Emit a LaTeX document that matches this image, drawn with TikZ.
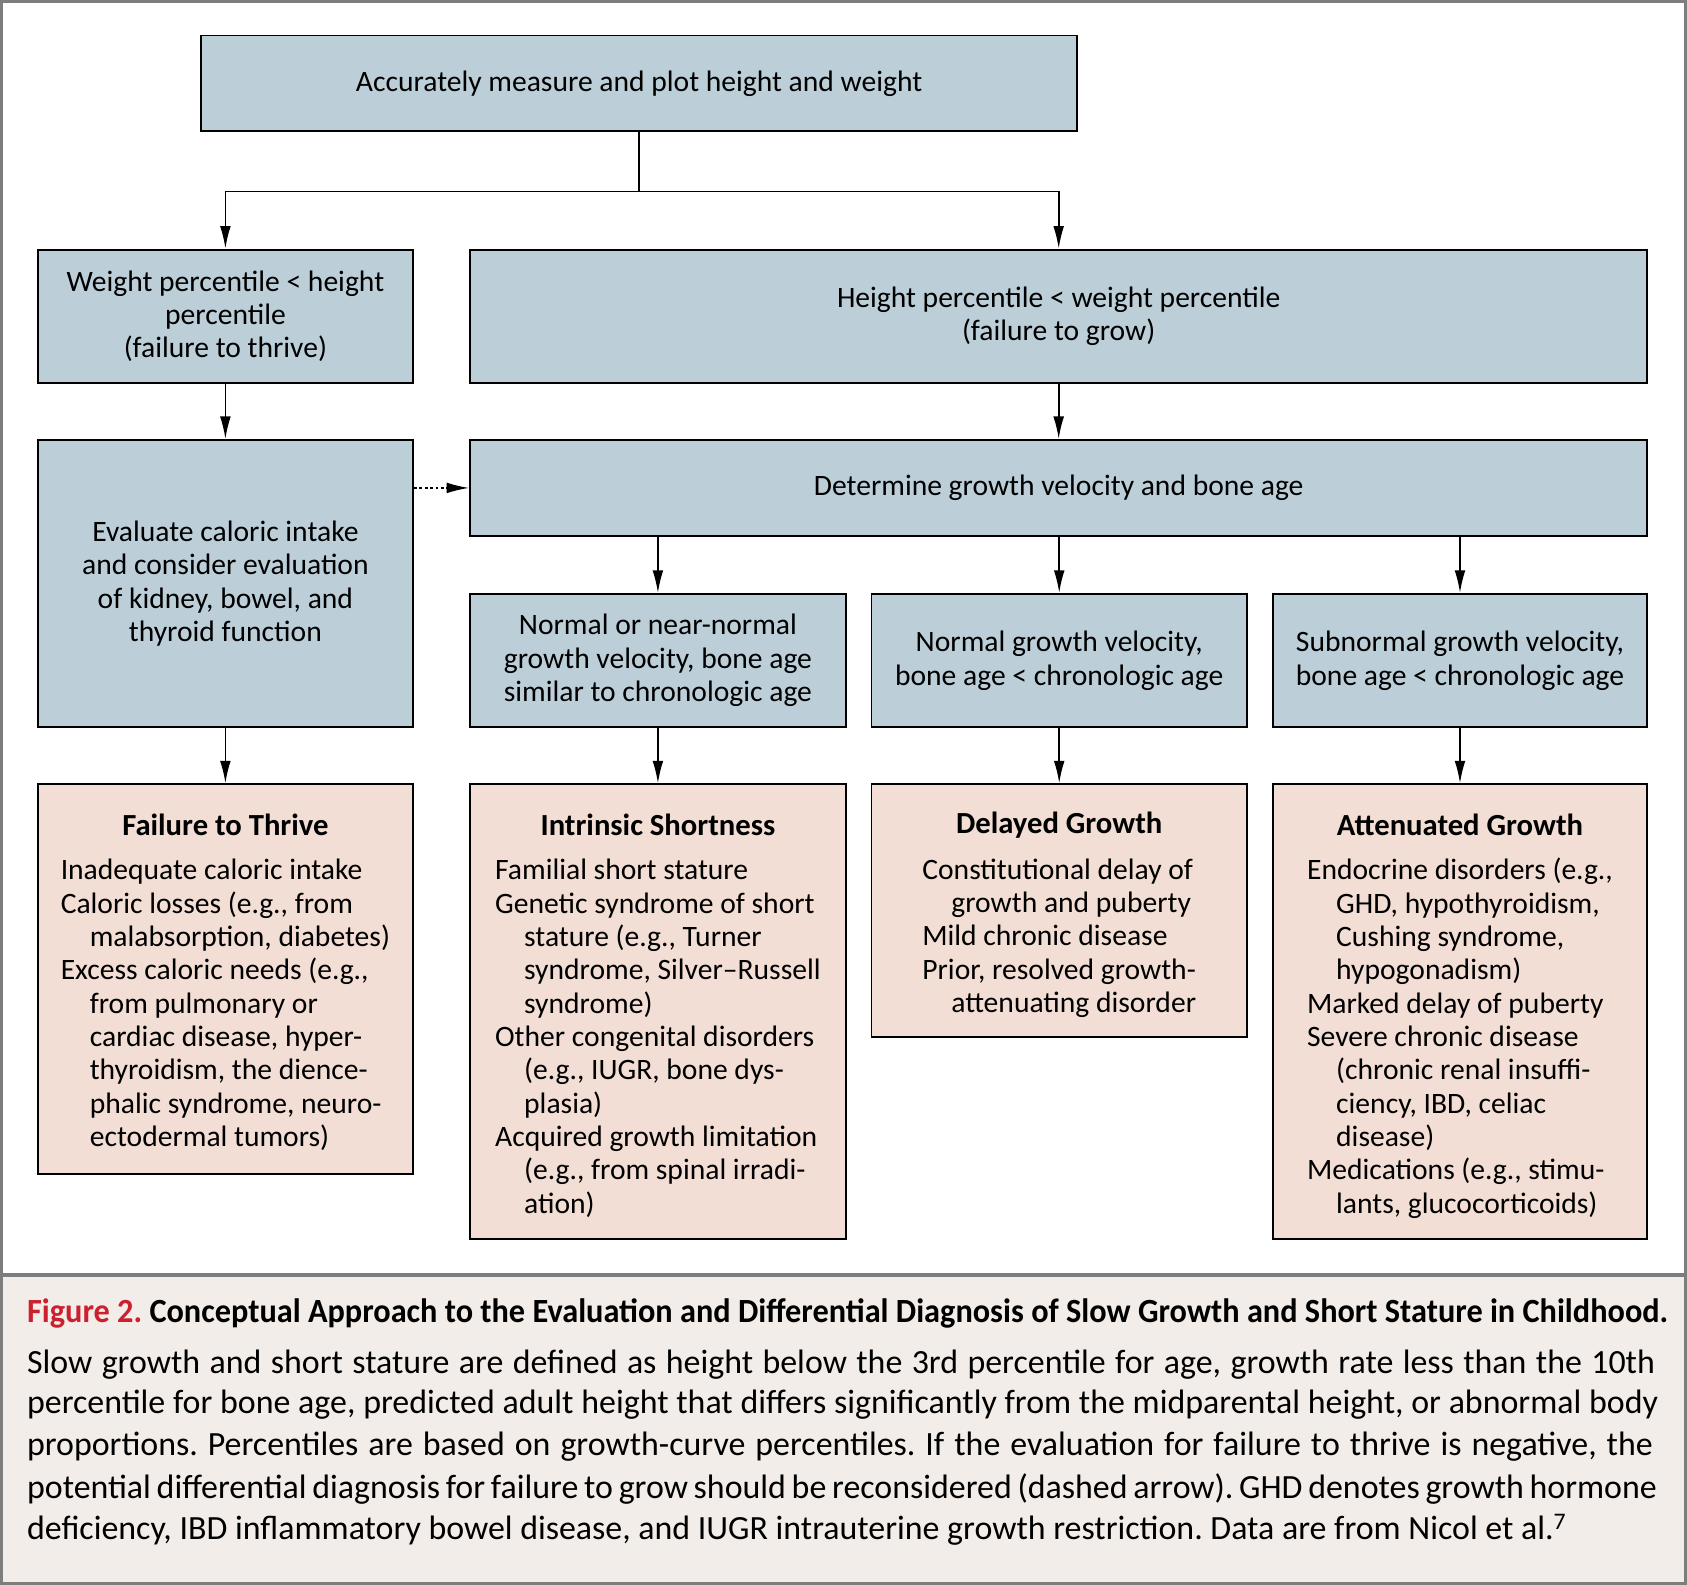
\documentclass[tikz,border=0pt]{standalone}
\usepackage{fontspec}
\setmainfont{Carlito}
\usetikzlibrary{arrows.meta}
\definecolor{boxblue}{RGB}{188,207,217}
\definecolor{boxpink}{RGB}{242,222,212}
\definecolor{capbg}{RGB}{242,237,232}
\definecolor{framegray}{RGB}{125,125,125}
\definecolor{figred}{RGB}{204,32,46}
\newcommand{\bxfont}{\fontsize{27.5}{31}\selectfont}
\newcommand{\ttlfont}{\fontsize{28.5}{31}\selectfont\bfseries}
\newcommand{\capfont}{\fontsize{31.5}{38.5}\selectfont\frenchspacing}
\newcommand{\ind}{\hspace*{27pt}}
\begin{document}
\begin{tikzpicture}[x=1pt,y=-1pt,
  bluebox/.style={draw=black, line width=1.8pt, fill=boxblue, inner sep=0pt, align=center, font=\bxfont},
  pinkbox/.style={draw=black, line width=1.8pt, fill=boxpink, inner sep=0pt},
  ttl/.style={font=\ttlfont, inner sep=0pt},
  lst/.style={font=\bxfont, align=left, inner sep=0pt},
  arr/.style={-{Latex[length=21pt,width=10pt]}, line width=1.6pt},
  dotarr/.style={-{Latex[length=21pt,width=10pt]}, line width=1.6pt, dash pattern=on 2.5pt off 2.5pt},
  capline/.style={font=\capfont, anchor=west, inner sep=0pt}]
\useasboundingbox (0,0) rectangle (1568,1473);
% frame and caption area
\fill[white] (0,0) rectangle (1568,1185);
\fill[capbg] (0,1185) rectangle (1568,1473);
\draw[framegray, line width=3pt] (1.5,1.5) rectangle (1566.5,1471.5);
\draw[framegray, line width=3pt] (0,1185) -- (1568,1185);

% boxes
\node[bluebox, minimum width=814pt, minimum height=89pt] (top) at (594,77.5) {Accurately measure and plot height and weight};
\node[bluebox, minimum width=349pt, minimum height=124pt] (wt) at (209.5,294) {Weight percentile < height\\percentile\\(failure to thrive)};
\node[bluebox, minimum width=1094pt, minimum height=124pt] (ht) at (984,294) {Height percentile < weight percentile\\(failure to grow)};
\node[bluebox, minimum width=349pt, minimum height=267pt] (ev) at (209.5,542.5) {Evaluate caloric intake\\and consider evaluation\\of kidney, bowel, and\\thyroid function};
\node[bluebox, minimum width=1094pt, minimum height=89pt] (det) at (984,453.5) {Determine growth velocity and bone age};
\node[bluebox, minimum width=349pt, minimum height=124pt] (m1) at (611.5,614) {Normal or near-normal\\growth velocity, bone age\\similar to chronologic age};
\node[bluebox, minimum width=349pt, minimum height=124pt] (m2) at (984.5,614) {Normal growth velocity,\\bone age < chronologic age};
\node[bluebox, minimum width=348pt, minimum height=124pt] (m3) at (1357,614) {Subnormal growth velocity,\\bone age < chronologic age};

\node[pinkbox, minimum width=349pt, minimum height=362pt] (r1) at (209.5,910) {};
\node[pinkbox, minimum width=349pt, minimum height=423pt] (r2) at (611.5,940.5) {};
\node[pinkbox, minimum width=349pt, minimum height=235pt] (r3) at (984.5,846.5) {};
\node[pinkbox, minimum width=348pt, minimum height=423pt] (r4) at (1357,940.5) {};

\node[ttl] (t1) at (209.5,767) {Failure to Thrive};
\node[ttl] (t2) at (611.5,767) {Intrinsic Shortness};
\node[ttl] (t3) at (984.5,767) {Delayed Growth};
\node[ttl] (t4) at (1357,767) {Attenuated Growth};

\node[lst] (l1) at (209.5,934) {Inadequate caloric intake\\Caloric losses (e.g., from\\\ind malabsorption, diabetes)\\Excess caloric needs (e.g.,\\\ind from pulmonary or\\\ind cardiac disease, hyper-\\\ind thyroidism, the dience-\\\ind phalic syndrome, neuro-\\\ind ectodermal tumors)};
\node[lst] (l2) at (611.5,965) {Familial short stature\\Genetic syndrome of short\\\ind stature (e.g., Turner\\\ind syndrome, Silver--Russell\\\ind syndrome)\\Other congenital disorders\\\ind (e.g., IUGR, bone dys-\\\ind plasia)\\Acquired growth limitation\\\ind (e.g., from spinal irradi-\\\ind ation)};
\node[lst] (l3) at (984.5,872) {Constitutional delay of\\\ind growth and puberty\\Mild chronic disease\\Prior, resolved growth-\\\ind attenuating disorder};
\node[lst] (l4) at (1357,965) {Endocrine disorders (e.g.,\\\ind GHD, hypothyroidism,\\\ind Cushing syndrome,\\\ind hypogonadism)\\Marked delay of puberty\\Severe chronic disease\\\ind (chronic renal insuffi-\\\ind ciency, IBD, celiac\\\ind disease)\\Medications (e.g., stimu-\\\ind lants, glucocorticoids)};

% connectors
\coordinate (j) at (594,178);
\draw[line width=1.6pt] (top.south) -- (j);
\draw[arr] (j) -| (wt.north);
\draw[arr] (j) -| (ht.north);
\draw[arr] (wt.south) -- (ev.north);
\draw[arr] (ht.south) -- (det.north);
\draw[dotarr] (ev.east |- det.west) -- (det.west);
\draw[arr] (det.south -| m1.north) -- (m1.north);
\draw[arr] (det.south -| m2.north) -- (m2.north);
\draw[arr] (det.south -| m3.north) -- (m3.north);
\draw[arr] (ev.south) -- (r1.north);
\draw[arr] (m1.south) -- (r2.north);
\draw[arr] (m2.south) -- (r3.north);
\draw[arr] (m3.south) -- (r4.north);

% caption
\node[capline] (c0) at (25,1221) {\resizebox{1525pt}{\height}{\textcolor{figred}{\bfseries Figure 2.} \bfseries Conceptual Approach to the Evaluation and Differential Diagnosis of Slow Growth and Short Stature in Childhood.}};
\node[capline] (c1) at (25,1268) {\makebox[1513pt][s]{Slow growth and short stature are defined as height below the 3rd percentile for age, growth rate less than the 10th}};
\node[capline] (c2) at (25,1306) {\makebox[1516pt][s]{percentile for bone age, predicted adult height that differs significantly from the midparental height, or abnormal body}};
\node[capline] (c3) at (25,1345) {\makebox[1511pt][s]{proportions. Percentiles are based on growth-curve percentiles. If the evaluation for failure to thrive is negative, the}};
\node[capline] (c4) at (25,1384) {\makebox[1515pt][s]{potential differential diagnosis for failure to grow should be reconsidered (dashed arrow). GHD denotes growth hormone}};
\node[capline] (c5) at (25,1422) {deficiency, IBD inflammatory bowel disease, and IUGR intrauterine growth restriction. Data are from Nicol et al.\textsuperscript{7}};
\end{tikzpicture}
\end{document}
